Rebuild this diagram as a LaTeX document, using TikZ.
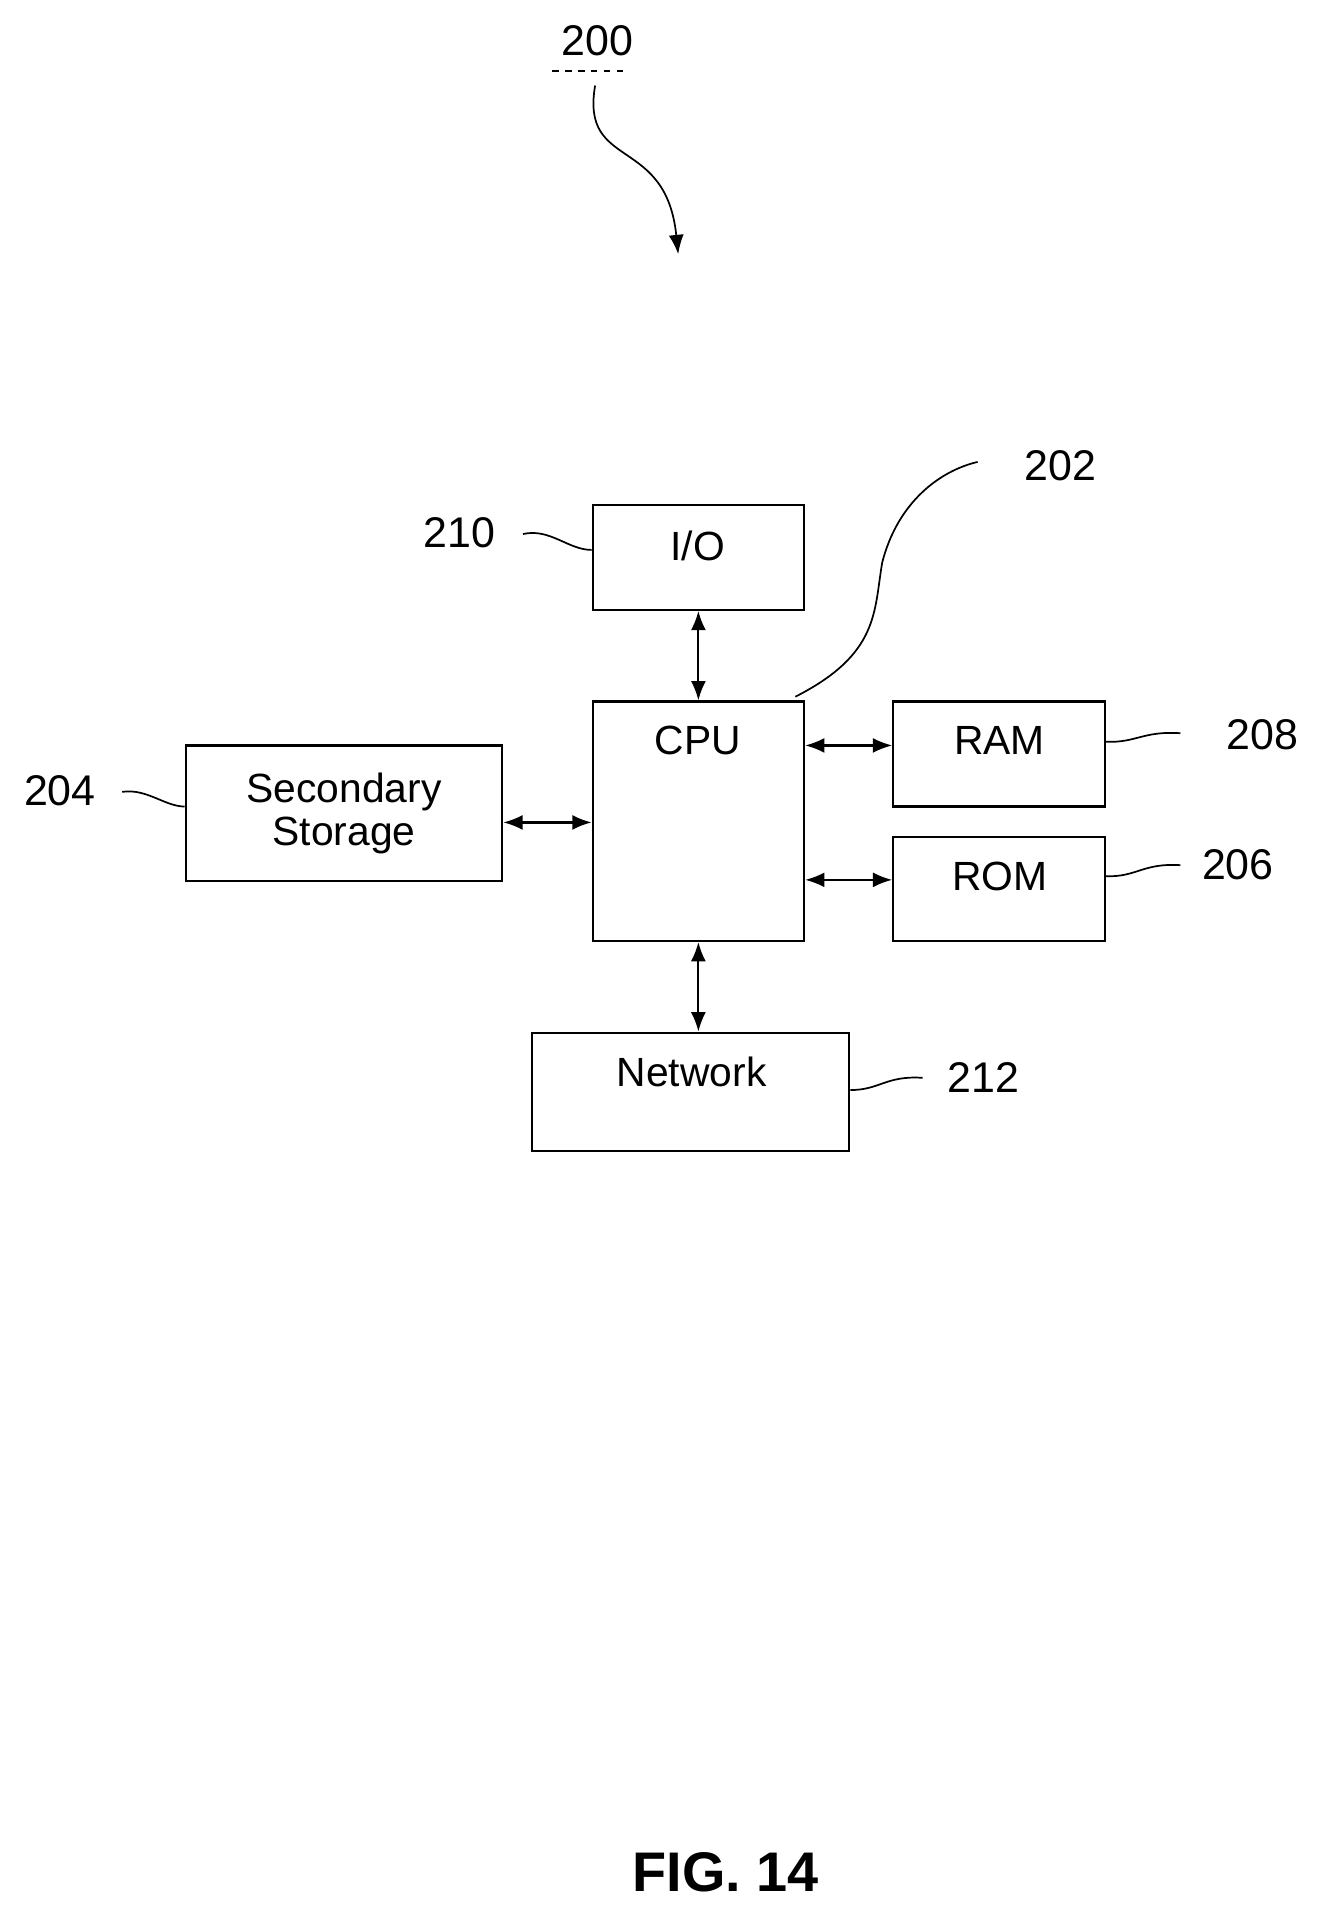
\documentclass[tikz,border=0pt]{standalone}
\usepackage{fontspec}
\setmainfont{Liberation Sans}
\usetikzlibrary{arrows.meta}
\begin{document}
\begin{tikzpicture}[x=0.02cm,y=-0.02cm,
  box/.style={draw,line width=1pt,inner sep=0pt},
  lbl/.style={font=\fontsize{19}{22}\selectfont},
  num/.style={font=\fontsize{20}{22}\selectfont},
  dbl/.style={{Latex[length=9pt,width=7pt]}-{Latex[length=9pt,width=7pt]},line width=1pt},
  lead/.style={line width=0.8pt}]
\useasboundingbox (0,0) rectangle (1080,1563);
\draw[box] (485,413) rectangle (658,499) coordinate[pos=0.5] (ioc);
\node[box,minimum width=173*0.02cm,minimum height=86*0.02cm] (io) at (571.5,456) {};
\node[lbl] (iot) at (571,447) {I/O};
\node[box,minimum width=173*0.02cm,minimum height=196*0.02cm] (cpu) at (571.5,672) {};
\node[lbl] (cput) at (571,606) {CPU};
\node[box,minimum width=173*0.02cm,minimum height=86*0.02cm] (ram) at (817.5,617) {};
\node[lbl] (ramt) at (818,606) {RAM};
\node[box,minimum width=173*0.02cm,minimum height=85*0.02cm] (rom) at (817.5,727.5) {};
\node[lbl] (romt) at (818,717) {ROM};
\node[box,minimum width=259*0.02cm,minimum height=111*0.02cm,align=center,lbl] (ss) at (281.5,665.5) {Secondary\\[-2pt]Storage};
\node[box,minimum width=260*0.02cm,minimum height=97*0.02cm] (net) at (565,893.5) {};
\node[lbl] (nett) at (566,877) {Network};
% arrows
\draw[dbl] (io.south) -- (cpu.north);
\draw[dbl] (cpu.south) -- (net.north -| cpu.south);
\draw[dbl] (cpu.east |- 0,610) -- (ram.west |- 0,610);
\draw[dbl] (cpu.east |- 0,720) -- (rom.west |- 0,720);
\draw[dbl] (ss.east |- 0,673) -- (cpu.west |- 0,673);
% labels
\node[num] (n200) at (489,33) {200};
\draw[dashed,line width=0.8pt] (452,58) -- (510,58);
\coordinate (a200) at (487,70);
\draw[lead,-{Latex[length=9pt,width=7pt]}] (a200) .. controls (475,140) and (545,110) .. (555,208);
\node[num] (n202) at (868,381) {202};
\draw[lead] (cpu.north east) ++(-8,-3) .. controls (720,535) and (715,500) .. (722,460) .. controls (735,410) and (770,385) .. (800,378);
\node[num] (n210) at (376,436) {210};
\draw[lead] (428,437) .. controls (450,432) and (465,450) .. (io.west |- 0,450);
\node[num] (n204) at (49,647) {204};
\draw[lead] (100,648) .. controls (120,645) and (135,660) .. (ss.west |- 0,660);
\node[num] (n208) at (1033,601) {208};
\draw[lead] (ram.east |- 0,607) .. controls (930,608) and (935,598) .. (966,600);
\node[num] (n206) at (1013,708) {206};
\draw[lead] (rom.east |- 0,717) .. controls (930,718) and (935,706) .. (966,708);
\node[num] (n212) at (805,882) {212};
\draw[lead] (net.east |- 0,892) .. controls (720,892) and (725,880) .. (755,882);
\node[font=\fontsize{26}{30}\selectfont\bfseries] (fig) at (594,1532) {FIG. 14};
\end{tikzpicture}
\end{document}
